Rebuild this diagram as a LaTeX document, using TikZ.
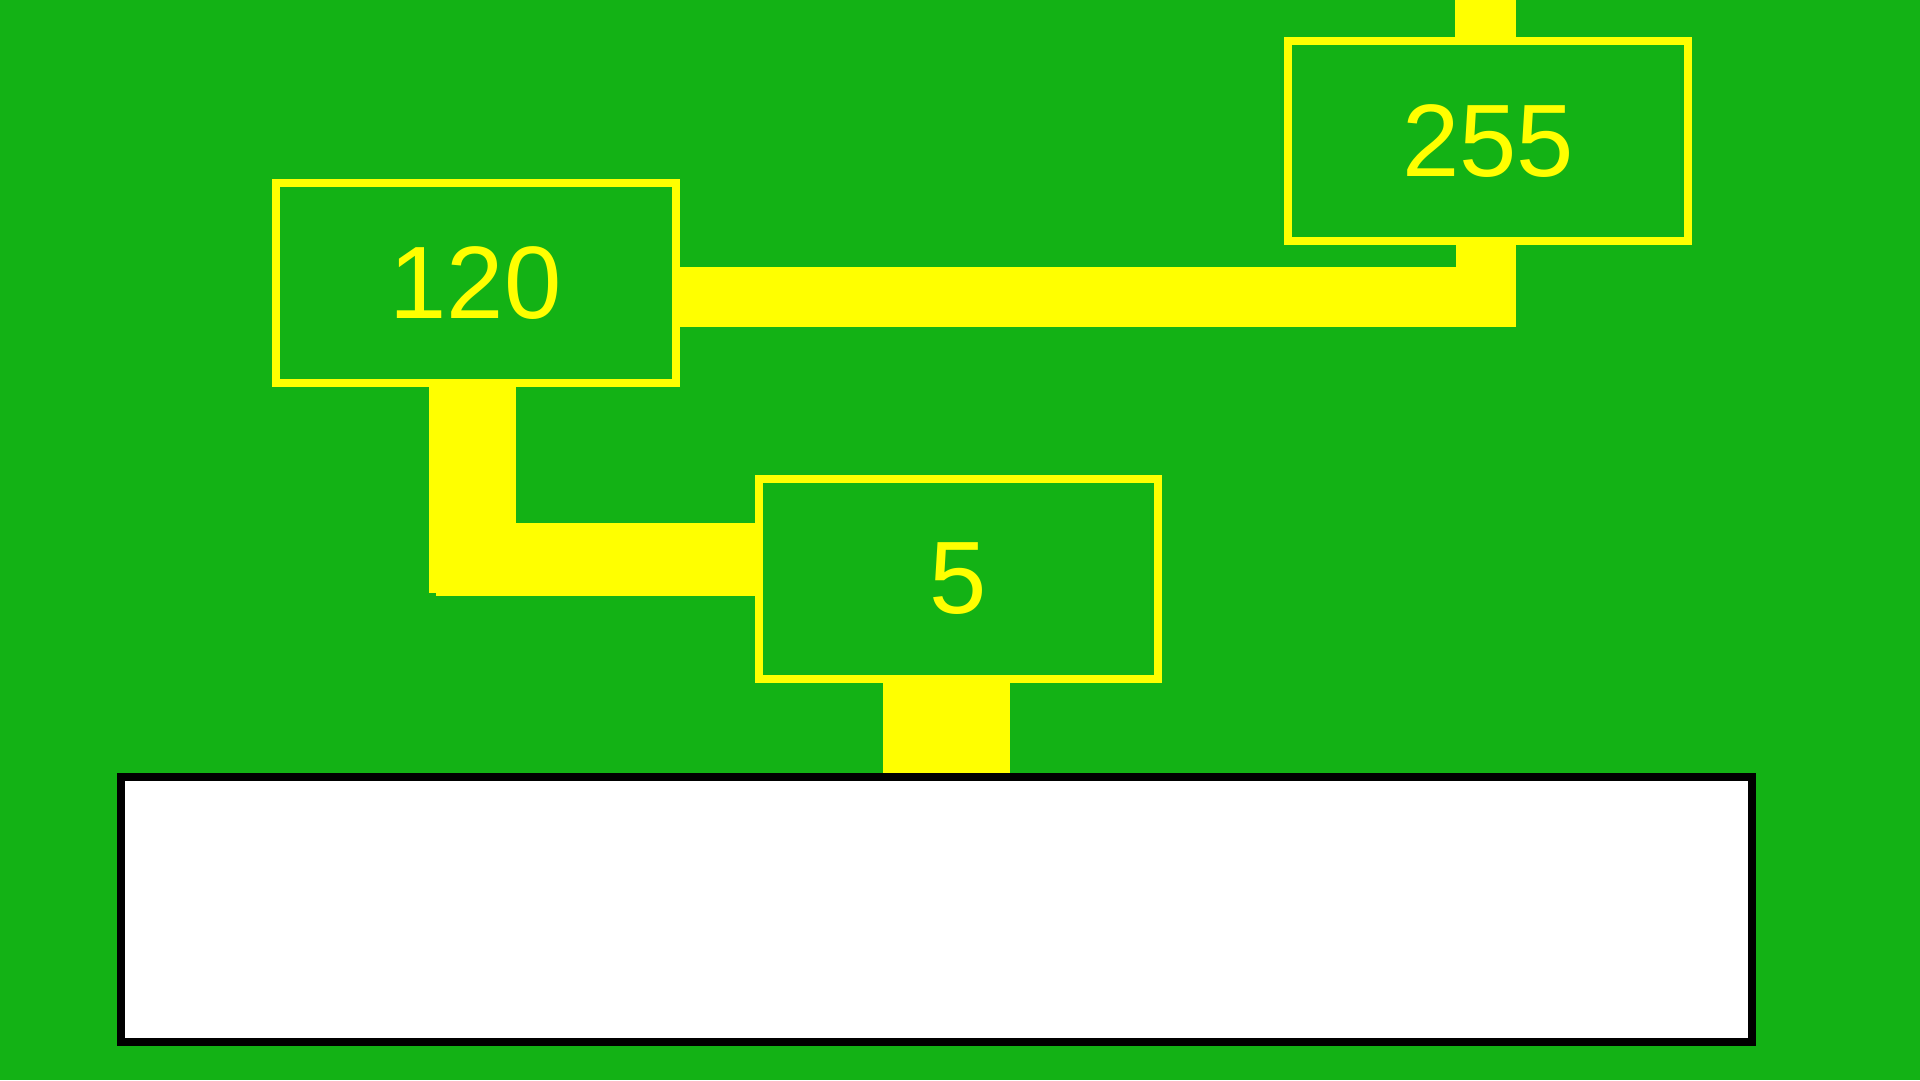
\documentclass[tikz,border=0pt]{standalone}
\usepackage{fontspec}
\setmainfont{Liberation Sans}
\usetikzlibrary{calc}
\definecolor{field}{RGB}{19,178,21}
\definecolor{wire}{RGB}{255,255,0}
\tikzstyle{cell}=[draw=wire, line width=8pt, fill=field, minimum width=400pt, minimum height=200pt, inner sep=0pt, text=wire, font=\fontsize{103}{103}\selectfont]
\tikzstyle{link}=[draw=wire]
\tikzstyle{board}=[draw=black, fill=white, line width=8pt, minimum width=1631pt, minimum height=265pt, inner sep=0pt]

\begin{document}
\begin{tikzpicture}[x=1pt,y=-1pt]
\fill[field] (0,0) rectangle (1920,1080);
\useasboundingbox (0,0) rectangle (1920,1080);
\node[cell] (n120) at (475.5,283) {120};
\node[cell] (n255) at (1488,141) {255};
\node[cell, minimum width=399pt] (n5) at (958.5,579) {5};
\node[board] (panel) at (936.5,909.5) {};
\coordinate (top) at (1485.5,0);
\coordinate (elbow) at (472.5,559.5);
\draw[link, line width=61pt] (top) -- (top |- n255.north);
\draw[link, line width=60pt] ([yshift=-13.5pt]n120.east) -| (top |- n255.south);
\draw[link, line width=87pt] (n120.south -| elbow) -- ([yshift=-33.5pt]elbow);
\draw[link, line width=73pt] ([xshift=-37pt]elbow) -- (elbow -| n5.west);
\draw[link, line width=127pt] ([xshift=-12pt]n5.south) -- ([xshift=-12pt]n5.south |- panel.north);
\end{tikzpicture}
\end{document}
